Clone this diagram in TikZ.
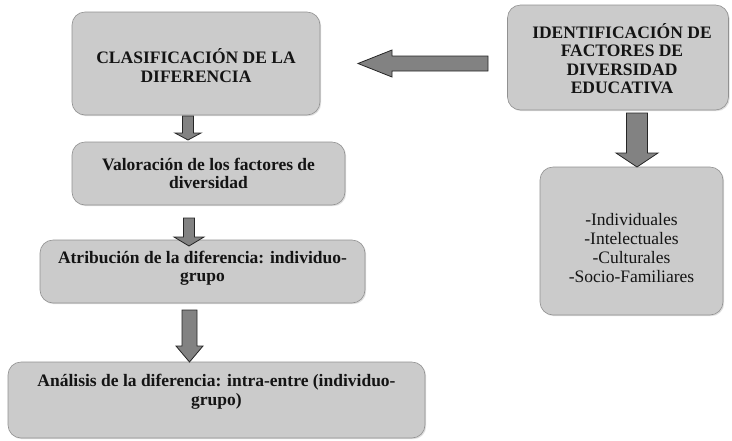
\documentclass[tikz,border=0pt]{standalone}
\usepackage{fontspec}
\setmainfont{Liberation Serif}
\usetikzlibrary{shadows,calc}
\definecolor{boxgray}{RGB}{203,203,203}
\definecolor{boxedge}{RGB}{145,145,145}
\definecolor{arrowgray}{RGB}{130,130,130}
\definecolor{txt}{RGB}{20,20,20}
\newcommand\BArrowDown[6]{% x, ytop, ytip, half shaft, half head, head length
  \draw[blockarrow] (#1-#4,#2) -- (#1+#4,#2) -- (#1+#4,#3-#6) -- (#1+#5,#3-#6)
    -- (#1,#3) -- (#1-#5,#3-#6) -- (#1-#4,#3-#6) -- cycle;}
\begin{document}
\begin{tikzpicture}[x=1pt,y=-1pt,
  box/.style={draw=boxedge, fill=boxgray, rounded corners=13pt, line width=0.6pt,
    drop shadow={shadow xshift=1.2pt, shadow yshift=-1.2pt, opacity=0.25},
    inner sep=0pt},
  boxtext/.style={align=center, text=txt, inner sep=0pt,
    font=\fontsize{17.5}{18.5}\selectfont\bfseries},
  listtext/.style={align=center, text=txt, inner sep=0pt,
    font=\fontsize{17.5}{19}\selectfont},
  blockarrow/.style={draw=black!85, fill=arrowgray, line width=0.8pt, line join=miter}]
\path[fill=white, use as bounding box] (0,0) rectangle (732,440);

\node[box, minimum width=248pt, minimum height=103pt] (clas) at (196,63.5) {};
\node[boxtext] at ($(clas.center)+(0,2)$) {CLASIFICACIÓN DE LA\\DIFERENCIA};

\node[box, minimum width=221pt, minimum height=105pt] (iden) at (618,57.5) {};
\node[boxtext] at ($(iden.center)+(4,1)$) {IDENTIFICACIÓN DE\\FACTORES DE\\DIVERSIDAD\\EDUCATIVA};

\node[box, minimum width=273pt, minimum height=63pt] (valo) at (208.5,173.5) {};
\node[boxtext] at (valo.center) {Valoración de los factores de\\diversidad};

\node[box, minimum width=325pt, minimum height=63pt] (atri) at (202.5,271.5) {};
\node[boxtext] at ($(atri.center)+(0,-3)$) {Atribución de la diferencia: individuo-\\grupo};

\node[box, minimum width=417pt, minimum height=76pt] (anal) at (216.5,400) {};
\node[boxtext] at ($(anal.center)+(0,-8)$) {Análisis de la diferencia: intra-entre (individuo-\\grupo)};

\node[box, minimum width=183pt, minimum height=148pt] (fact) at (631.5,241) {};
\node[listtext] at ($(fact.center)+(0,7)$) {-Individuales\\-Intelectuales\\-Culturales\\-Socio-Familiares};

% left block arrow (iden -> clas)
\draw[blockarrow] (488,56) -- (392,56) -- (392,50) -- (358,63.5) -- (392,77)
  -- (392,71) -- (488,71) -- cycle;

\BArrowDown{188}{116}{140}{5.5}{13}{7}
\BArrowDown{189}{218}{246}{5.5}{15}{9}
\BArrowDown{189.5}{310}{362}{7.5}{13.5}{16}
\BArrowDown{637}{113}{167}{10.5}{21}{14}
\end{tikzpicture}
\end{document}
